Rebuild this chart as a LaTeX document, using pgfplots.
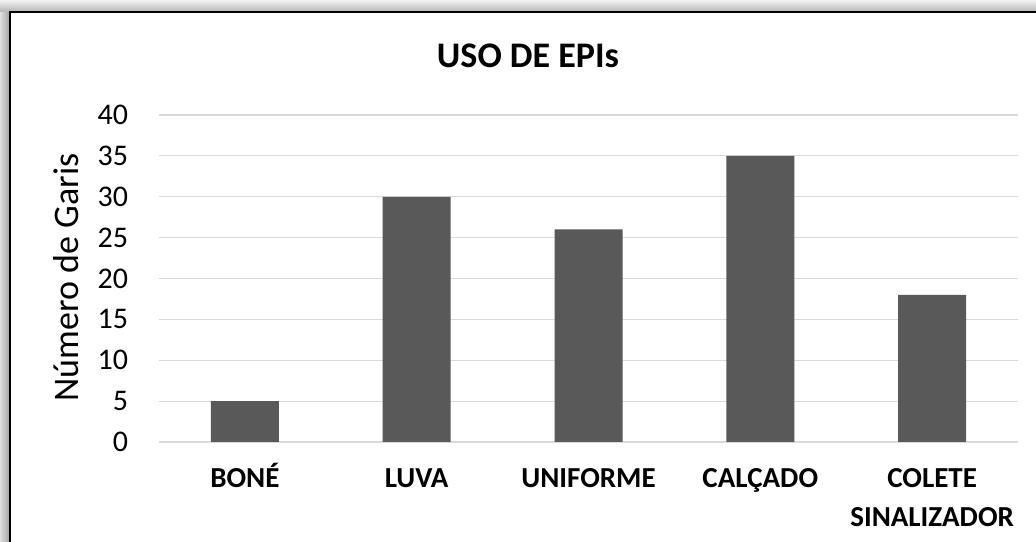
\documentclass[border=0pt]{standalone}
\usepackage{pgfplots}
\pgfplotsset{compat=1.18}
\usepackage{fontspec}
\setmainfont{Carlito}
\definecolor{barc}{HTML}{595959}
\definecolor{gridc}{HTML}{D9D9D9}
\begin{document}
\begin{tikzpicture}
\useasboundingbox (0pt,0pt) rectangle (777pt,406.5pt);
\fill[white] (0pt,0pt) rectangle (777pt,406.5pt);
\shade[left color=gray!25,right color=gray!70] (0pt,0pt) rectangle (6.75pt,397.5pt);
\shade[top color=gray!10,bottom color=gray!60] (0pt,397.5pt) rectangle (777pt,406.5pt);
\draw[line width=1.5pt] (7.125pt,0pt) -- (7.125pt,397.125pt) -- (777pt,397.125pt);
\begin{axis}[
 at={(119.25pt,75pt)}, anchor=south west,
 scale only axis, width=644.25pt, height=245.25pt,
 xmin=-0.5, xmax=4.5, ymin=0, ymax=40,
 ytick={0,5,...,40}, xtick={0,1,2,3,4},
 xticklabels={\strut BONÉ,\strut LUVA,\strut UNIFORME,\strut CALÇADO,{\strut COLETE\\SINALIZADOR}},
 axis line style={draw=none},
 major tick length=0pt,
 ymajorgrids, grid style={gridc, line width=0.9pt},
 /pgf/number format/assume math mode=true,
 yticklabel style={font=\fontsize{22.5}{27}\selectfont, inner sep=0pt, anchor=east, xshift=-23pt},
 xticklabel style={font=\fontsize{21.75}{29}\selectfont\bfseries, align=center, inner sep=0pt, anchor=north, yshift=-14pt},
 ybar, bar width=51pt,
]
\addplot[fill=barc, draw=none] coordinates {(0,5) (1,30) (2,26) (3,35) (4,18)};
\end{axis}
\node[anchor=base, font=\fontsize{27}{32}\selectfont\bfseries] at (396pt,355.7pt) {USO DE EPIs};
\node[anchor=base, rotate=90, font=\fontsize{27}{32}\selectfont] at (58.7pt,198.4pt) {Número de Garis};
\end{tikzpicture}
\end{document}
